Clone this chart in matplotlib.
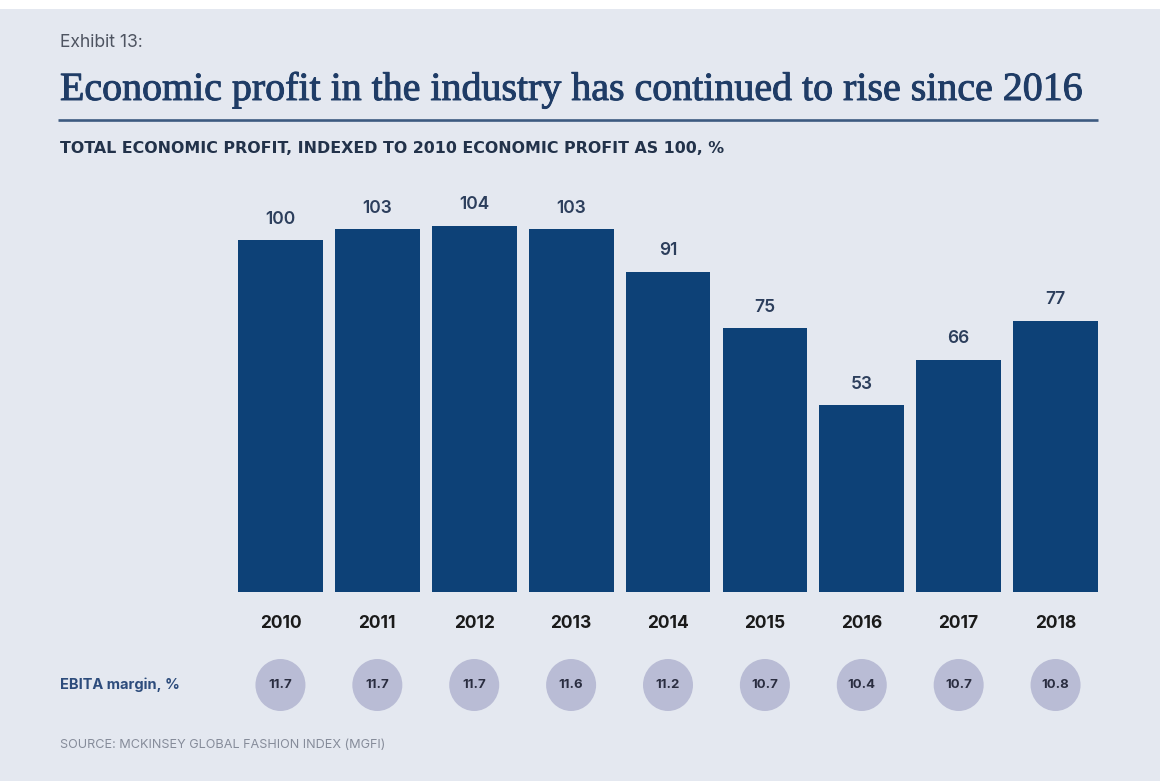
import matplotlib
matplotlib.use("Agg")
import matplotlib.pyplot as plt
import matplotlib.patheffects as pe
from matplotlib.patches import Rectangle, Ellipse
from matplotlib.transforms import blended_transform_factory

years = ["2010", "2011", "2012", "2013", "2014", "2015", "2016", "2017", "2018"]
profit_index = [100, 103, 104, 103, 91, 75, 53, 66, 77]
ebita_margin = ["11.7", "11.7", "11.7", "11.6", "11.2", "10.7", "10.4", "10.7", "10.8"]

W, H = 1170, 781
BG = "#e4e8f0"
NAVY = "#0d4177"
TITLE_NAVY = "#1f3c66"
CIRCLE = "#b9bcd5"

fig = plt.figure(figsize=(W / 100, H / 100), dpi=100)
fig.patch.set_facecolor("white")

# Full-figure pixel canvas for the panel background and text
bg = fig.add_axes([0, 0, 1, 1])
bg.set_xlim(0, W)
bg.set_ylim(H, 0)
bg.axis("off")
bg.add_patch(Rectangle((0, 9), 1160, H - 9, facecolor=BG, edgecolor="none", zorder=0))

sans = ["Inter", "DejaVu Sans"]
LEFT = 60

exhibit = bg.text(LEFT, 47, "Exhibit 13:", fontsize=11, color="#4e5461",
                  family=sans, va="baseline", ha="left")
title = bg.text(LEFT, 100, "Economic profit in the industry has continued to rise since 2016",
                fontsize=28, color=TITLE_NAVY, family=["Liberation Serif"],
                va="baseline", ha="left",
                path_effects=[pe.withStroke(linewidth=0.7, foreground=TITLE_NAVY)])
bg.plot([58, 1098], [120, 120], color="#3d5a80", lw=1.9, solid_capstyle="butt")
subtitle = bg.text(LEFT, 153, "TOTAL ECONOMIC PROFIT, INDEXED TO 2010 ECONOMIC PROFIT AS 100, %",
                   fontsize=10.5, color="#22324a", family=["DejaVu Sans"], weight="bold",
                   va="baseline", ha="left")

# Bar chart
ax = fig.add_axes([232 / W, 1 - 592 / H, 872 / W, 412 / H])
ax.set_facecolor("none")
x = list(range(len(years)))
ax.bar(x, profit_index, width=0.875, color=NAVY, edgecolor="none")
ax.set_xlim(-0.5, len(years) - 0.5)
ax.set_ylim(0, 412 / 3.52)
ax.axis("off")
for xi, v in zip(x, profit_index):
    ax.annotate(str(v), (xi, v), xytext=(0, 21), textcoords="offset pixels",
                ha="center", va="center", fontsize=12.5, color="#2c3e5c",
                family=sans, weight="semibold")

# Year labels and margin circles positioned by category on the bar axis
tr = blended_transform_factory(ax.transData, bg.transData)
for xi, yr, m in zip(x, years, ebita_margin):
    bg.text(xi, 623, yr, transform=tr, ha="center", va="center",
            fontsize=12.5, color="#1a1a1a", family=sans, weight="bold")
    bg.add_patch(Ellipse((xi, 685), 50 / 96.9, 52, transform=tr,
                         facecolor=CIRCLE, edgecolor="none", zorder=2))
    bg.text(xi, 685, m, transform=tr, ha="center", va="center",
            fontsize=9.5, color="#2a2d40", family=sans, weight="bold", zorder=3)

ebita = bg.text(LEFT, 685, "EBITA margin, %", fontsize=10.5, color="#2d4c7c", family=sans,
                weight="bold", va="center", ha="left")
source = bg.text(LEFT, 745, "SOURCE: MCKINSEY GLOBAL FASHION INDEX (MGFI)", fontsize=8.5,
                 color="#868c9a", family=sans, va="center", ha="left")

# Size each header/footer text to its intended span
fig.canvas.draw()
r = fig.canvas.get_renderer()
for t, target in [(exhibit, 83), (title, 1023), (subtitle, 672), (ebita, 120), (source, 325)]:
    w = t.get_window_extent(r).width
    t.set_fontsize(t.get_fontsize() * target / w)

fig.savefig("out.png", dpi=100, facecolor=fig.get_facecolor())
